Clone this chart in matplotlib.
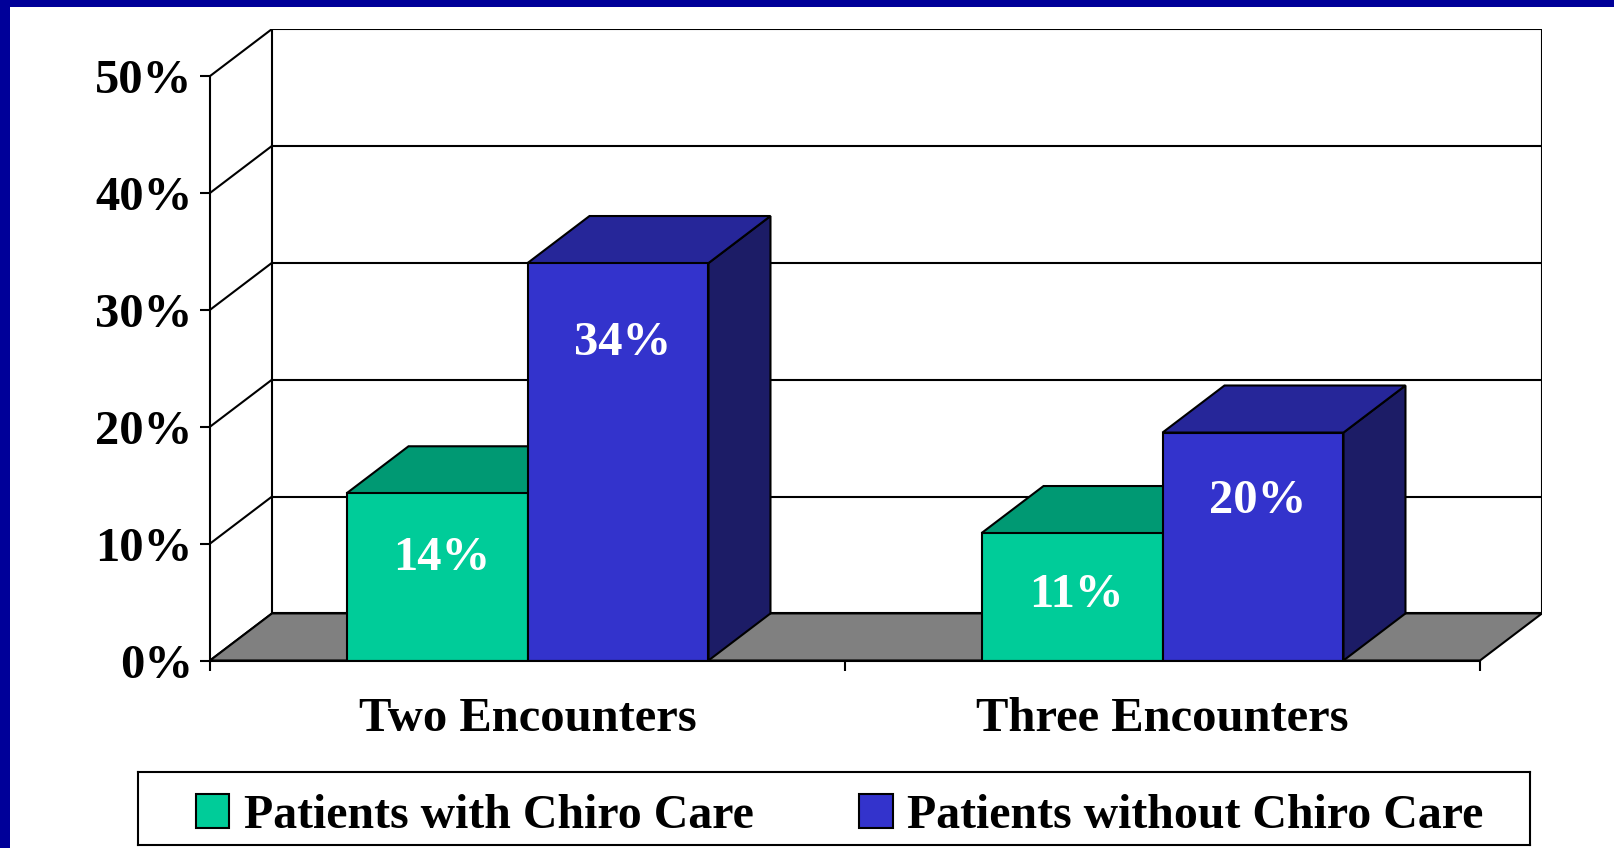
import matplotlib
matplotlib.use('Agg')
import matplotlib.pyplot as plt
from matplotlib.patches import Polygon, Rectangle, Patch

plt.rcParams['font.family'] = ['Liberation Serif', 'DejaVu Serif']
plt.rcParams['font.weight'] = 'bold'

categories = ['Two Encounters', 'Three Encounters']
series_names = ['Patients with Chiro Care', 'Patients without Chiro Care']
with_chiro = [14.3, 10.9]
without_chiro = [34.0, 19.5]
y_ticks = [0, 10, 20, 30, 40, 50]
y_tick_labels = ['0%', '10%', '20%', '30%', '40%', '50%']

# face colours: front, top, side
colors = [('#00CC99', '#009973', '#007A5C'),
          ('#3333CC', '#262699', '#1C1C66')]

W, H = 1614, 848
fig = plt.figure(figsize=(W / 100, H / 100), dpi=100)
fig.patch.set_facecolor('white')

# blue slide border (top and left)
fig.patches.append(Rectangle((0, 1 - 7 / H), 1, 7 / H, transform=fig.transFigure,
                             facecolor='#000099', edgecolor='none', zorder=0))
fig.patches.append(Rectangle((0, 0), 10 / W, 1, transform=fig.transFigure,
                             facecolor='#000099', edgecolor='none', zorder=0))

# depth of the pseudo 3d box, in data units
dx = 62 / 635.0
dy = 47 / 11.67
ymax = y_ticks[-1]
ncat = len(categories)

x0px, y0px = 210, 660.5
ax = fig.add_axes([x0px / W, (H - y0px) / H, (1542 - x0px) / W, (y0px - 29) / H])
ax.set_xlim(0, ncat + dx)
ax.set_ylim(0, ymax + dy)
ax.patch.set_alpha(0)
lw = 1.5
fs = 35

# walls, gridlines
for v in y_ticks:
    ax.plot([dx, ncat + dx], [v + dy, v + dy], color='black', lw=lw, zorder=1)
    ax.plot([0, dx], [v, v + dy], color='black', lw=lw, zorder=1)
ax.plot([dx, dx], [dy, ymax + dy], color='black', lw=lw, zorder=1)
ax.plot([ncat + dx, ncat + dx], [dy, ymax + dy], color='black', lw=lw, zorder=1)

# floor
ax.add_patch(Polygon([(0, 0), (ncat, 0), (ncat + dx, dy), (dx, dy)], closed=True,
                     facecolor='#808080', edgecolor='black', lw=lw, zorder=2))

bw = 0.285


def draw_bar(x, v, cols, z):
    front, top, side = cols
    ax.add_patch(Polygon([(x + bw, 0), (x + bw + dx, dy), (x + bw + dx, v + dy), (x + bw, v)],
                         closed=True, facecolor=side, edgecolor='black', lw=lw, zorder=z))
    ax.add_patch(Polygon([(x, v), (x + bw, v), (x + bw + dx, v + dy), (x + dx, v + dy)],
                         closed=True, facecolor=top, edgecolor='black', lw=lw, zorder=z))
    ax.add_patch(Rectangle((x, 0), bw, v, facecolor=front, edgecolor='black', lw=lw, zorder=z))
    off = 4.3 + 0.065 * v
    ax.text(x + bw / 2 + 0.007, v - off - 1.33, '%.0f%%' % v, color='white', fontsize=fs,
            fontweight='bold', ha='center', va='baseline', zorder=z + 0.5)


for i in range(ncat):
    for j, vals in enumerate([with_chiro, without_chiro]):
        draw_bar(i + 0.5 - bw + j * bw, vals[i], colors[j], 3 + 2 * i + j)

# front axes
for s in ['top', 'right']:
    ax.spines[s].set_visible(False)
ax.spines['left'].set_bounds(0, ymax)
ax.spines['bottom'].set_bounds(0, ncat)
ax.spines['left'].set_linewidth(lw)
ax.spines['bottom'].set_linewidth(lw)
ax.spines['left'].set_zorder(10)
ax.spines['bottom'].set_zorder(10)
ax.set_yticks(y_ticks)
ax.set_yticklabels(y_tick_labels)
ax.set_xticks(range(ncat + 1))
ax.set_xticklabels([])
ax.set_xticks([i + 0.5 for i in range(ncat)], minor=True)
ax.set_xticklabels(categories, minor=True)
ax.tick_params(axis='both', which='major', direction='out', length=7.5, width=lw,
               labelsize=fs, pad=5)
ax.tick_params(axis='x', which='minor', length=0, labelsize=fs, pad=26)

# legend box
lax = fig.add_axes([138 / W, (H - 845) / H, (1530 - 138) / W, 73 / H])
lax.set_xticks([])
lax.set_yticks([])
for s in lax.spines.values():
    s.set_linewidth(lw)
handles = [Patch(facecolor=colors[k][0], edgecolor='black', lw=lw) for k in range(2)]
lax.legend(handles, series_names, loc='center', bbox_to_anchor=(0.504, 0.4), ncol=2,
           frameon=False, fontsize=34.5, handlelength=0.7, handleheight=0.7,
           handletextpad=0.3, columnspacing=2.2, borderpad=0, borderaxespad=0)

fig.savefig('out.png', dpi=100)
